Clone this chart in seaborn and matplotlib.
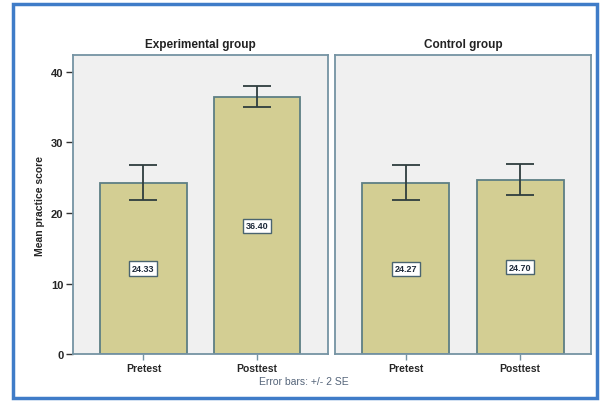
import matplotlib
matplotlib.use("Agg")
import matplotlib.pyplot as plt
from matplotlib.patches import Rectangle
import pandas as pd
import seaborn as sns

# values (means, and +/- 2 SE limits)
groups = ["Experimental group", "Control group"]
tests = ["Pretest", "Posttest"]
exp_means = [24.33, 36.40]
exp_low = [21.9, 35.0]
exp_high = [26.8, 38.0]
ctrl_means = [24.27, 24.70]
ctrl_low = [21.8, 22.5]
ctrl_high = [26.8, 27.0]
yticks = [0, 10, 20, 30, 40]

rows = []
for g, means, lows, highs in [(groups[0], exp_means, exp_low, exp_high),
                              (groups[1], ctrl_means, ctrl_low, ctrl_high)]:
    for t, m, lo, hi in zip(tests, means, lows, highs):
        rows.append({"group": g, "test": t, "mean": m, "low": lo, "high": hi})
df = pd.DataFrame(rows)

sns.set_theme(style="white")
plt.rcParams["font.family"] = ["Liberation Sans", "DejaVu Sans"]

bar_color = "#d3ce93"
edge_color = "#5d7f84"
spine_color = "#7593a3"
err_color = "#2f3d3e"
panel_bg = "#f0f0f0"

fig = plt.figure(figsize=(6.02, 4.02), dpi=100)
positions = [[73 / 602, 0.1157, 254.5 / 602, 0.7438],
             [335 / 602, 0.1157, 256 / 602, 0.7438]]

for i, g in enumerate(groups):
    ax = fig.add_axes(positions[i])
    sub = df[df["group"] == g]
    sns.barplot(data=sub, x="test", y="mean", order=tests, color=bar_color,
                saturation=1, edgecolor=edge_color, linewidth=1.3, width=0.76,
                errorbar=None, ax=ax)
    means = sub["mean"].values
    ax.errorbar(range(len(tests)), means,
                yerr=[means - sub["low"].values, sub["high"].values - means],
                fmt="none", ecolor=err_color, elinewidth=1.3, capsize=10,
                capthick=1.3, zorder=5)
    for j, m in enumerate(means):
        ax.text(j, m / 2, f"{m:.2f}", ha="center", va="center", fontsize=6.5,
                fontweight="bold", color="#1e2a3a", zorder=6,
                bbox=dict(boxstyle="square,pad=0.3", fc="white",
                          ec="#4a6470", lw=1))
    ax.set_facecolor(panel_bg)
    ax.set_xlim(-0.62, 1.62)
    ax.set_ylim(0, 42.3)
    ax.set_xlabel("")
    ax.set_title(g, fontsize=8.5, fontweight="bold", pad=6, color="#222222")
    for s in ax.spines.values():
        s.set_color(spine_color)
        s.set_linewidth(1.3)
    ax.tick_params(axis="x", bottom=True, length=4, width=1, color=spine_color,
                   labelsize=7.5, pad=2)
    for lab in ax.get_xticklabels():
        lab.set_fontweight("bold")
    if i == 0:
        ax.set_yticks(yticks)
        ax.tick_params(axis="y", left=True, length=5, width=1, color="#333333",
                       labelsize=8, pad=2)
        for lab in ax.get_yticklabels():
            lab.set_fontweight("bold")
        ax.set_ylabel("Mean practice score", fontsize=7.5, fontweight="bold",
                      labelpad=4)
    else:
        ax.set_yticks(yticks)
        ax.tick_params(axis="y", left=False, labelleft=False)
        ax.set_ylabel("")

fig.text(0.505, 0.05, "Error bars: +/- 2 SE", ha="center", va="center",
         fontsize=7.5, color="#55657a")

fig.patches.append(Rectangle((13 / 602, 3 / 402), 584 / 602, 394 / 402,
                             transform=fig.transFigure, fill=False,
                             ec="#3f7cc8", lw=2.5))

fig.savefig("out.png", dpi=100)
